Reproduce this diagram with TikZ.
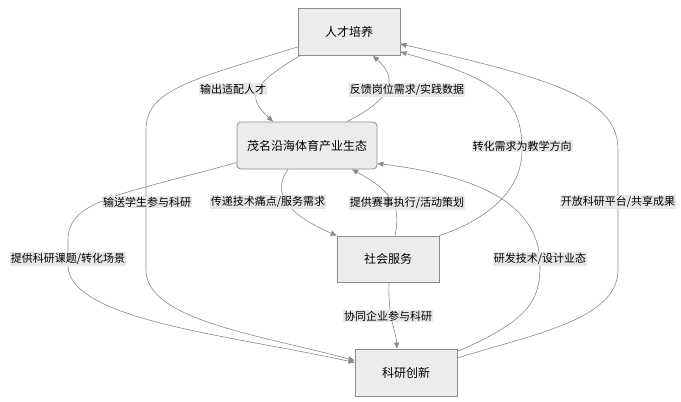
\documentclass[tikz,border=0pt]{standalone}
\usepackage{fontspec}
\setmainfont{Noto Sans CJK SC}
\usetikzlibrary{arrows.meta}
\definecolor{boxfill}{HTML}{ECECEC}
\definecolor{boxdraw}{HTML}{8C8C8C}
\definecolor{edgecol}{HTML}{8A8A8A}
\definecolor{lblfill}{HTML}{E8E8E8}
\begin{document}
\begin{tikzpicture}[x=1pt,y=-1pt,
  box/.style={draw=boxdraw,fill=boxfill,line width=0.8pt,minimum width=102pt,minimum height=47pt,inner sep=0pt,font=\fontsize{12}{14}\selectfont},
  lbl/.style={fill=lblfill,inner sep=1pt,font=\fontsize{11}{13}\selectfont},
  conn/.style={draw=edgecol,line width=0.6pt,-{Triangle[length=6pt,width=5pt]}}]
\fill[white] (0,0) rectangle (681,402);
\useasboundingbox (0,0) rectangle (681,402);
% nodes
\node[box] (A) at (349,32) {人才培养};
\node[box,minimum width=140pt,rounded corners=4pt] (B) at (307,145.5) {茂名沿海体育产业生态};
\node[box,minimum height=46pt] (C) at (388,259) {社会服务};
\node[box] (D) at (406,372.5) {科研创新};
% connectors
\draw[conn] ([xshift=2pt]A.south west) .. controls (245,88) and (250,100) .. ([xshift=-34pt]B.north);
\draw[conn] ([xshift=40pt]B.north) .. controls (390,100) and (400,80) .. ([xshift=24pt]A.south);
\draw[conn] (C.north east) .. controls (480,222) and (522,195) .. (522,150) .. controls (522,100) and (500,80) .. ([yshift=-20pt]A.east);
\draw[conn] ([yshift=14.5pt]D.east) .. controls (530,335) and (618,320) .. (618,270) -- (618,150) .. controls (618,100) and (560,80) .. ([yshift=-12pt]A.east);
\draw[conn] ([yshift=-15pt]A.west) .. controls (190,80) and (146,90) .. (146,130) -- (146,270) .. controls (146,320) and (260,335) .. ([yshift=12pt]D.west);
\draw[conn] ([yshift=-17pt]B.west) .. controls (120,195) and (68,200) .. (68,240) -- (68,265) .. controls (68,320) and (230,335) .. ([yshift=10pt]D.west);
\draw[conn] ([xshift=-19pt]B.south) .. controls (270,195) and (290,215) .. (C.north west);
\draw[conn] ([xshift=7pt]C.north) .. controls (402,205) and (390,190) .. ([xshift=45pt]B.south);
\draw[conn] ([yshift=21pt]D.east) .. controls (530,320) and (540,300) .. (540,265) .. controls (540,200) and (470,175) .. ([yshift=-18pt]B.east);
\draw[conn] ([xshift=1pt]C.south) .. controls (388,320) and (396,330) .. ([xshift=-9pt]D.north);
% labels
\node[lbl] (L1) at (233,89) {输出适配人才};
\node[lbl] (L2) at (407,90) {反馈岗位需求/实践数据};
\node[lbl] (L3) at (522,146) {转化需求为教学方向};
\node[lbl] (L4) at (618,202) {开放科研平台/共享成果};
\node[lbl] (L5) at (147,202) {输送学生参与科研};
\node[lbl] (L6) at (68,259) {提供科研课题/转化场景};
\node[lbl] (L7) at (268,202) {传递技术痛点/服务需求};
\node[lbl] (L8) at (407,203) {提供赛事执行/活动策划};
\node[lbl] (L9) at (540,259) {研发技术/设计业态};
\node[lbl] (L10) at (388,316) {协同企业参与科研};
\end{tikzpicture}
\end{document}
